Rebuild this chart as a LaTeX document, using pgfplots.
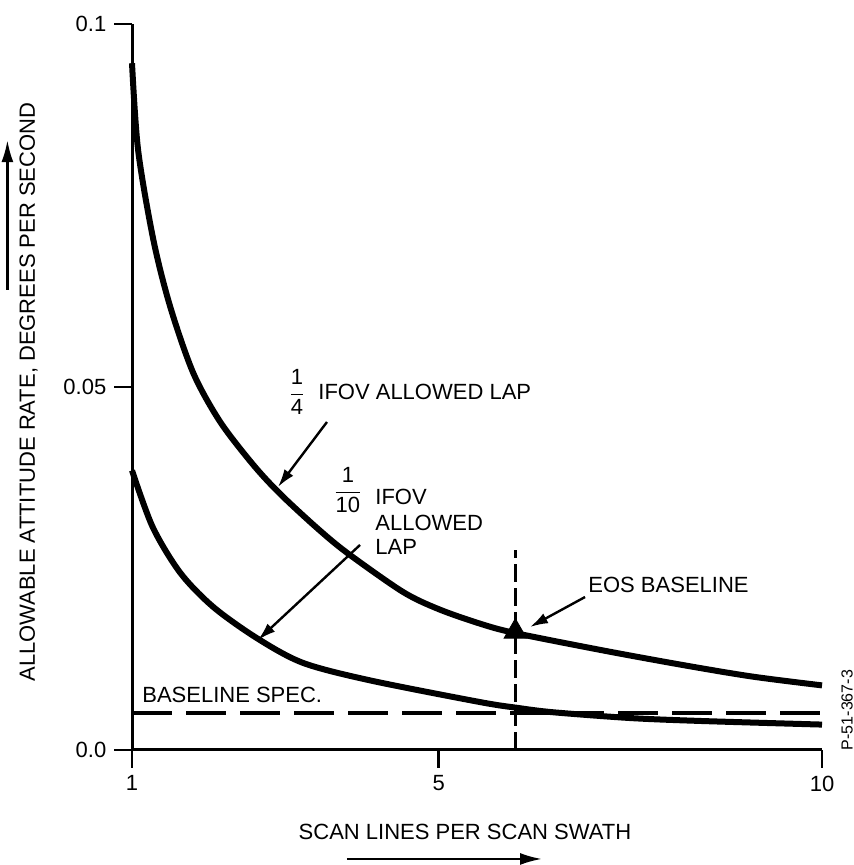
\documentclass[border=0pt]{standalone}
\usepackage{pgfplots}
\pgfplotsset{compat=1.18}
\usepackage{fontspec}
\setmainfont{Liberation Sans}
\usetikzlibrary{arrows.meta}
\newcommand\fr[2]{$\displaystyle\frac{\mbox{#1}}{\mbox{#2}}$}
\begin{document}
\fontsize{11bp}{13bp}\selectfont
\begin{tikzpicture}[x=1bp,y=1bp]
\useasboundingbox (0,0) rectangle (426.5,432.5);
\begin{axis}[
  at={(66bp,57.5bp)}, anchor=south west,
  scale only axis, width=345bp, height=363bp,
  xmin=1, xmax=10, ymin=0, ymax=0.1,
  axis x line=bottom, axis y line=left,
  axis line style={line width=1.5bp, -},
  xtick={1,5,10}, ytick={0,0.05,0.1},
  xticklabels={1,5,10}, yticklabels={0.0,0.05,0.1},
  scaled y ticks=false, scaled x ticks=false,
  /pgf/number format/assume math mode=true,
  tick align=outside,
  major tick length=9bp,
  tick style={line width=1.2bp, black},
  ticklabel style={font=\fontsize{11bp}{13bp}\selectfont},
  clip=false,
]
% 1/4 IFOV allowed lap
\addplot[line width=3bp, smooth, tension=0.5] coordinates {
(1.0,0.0946) (1.08,0.0826) (1.28,0.0702) (1.50,0.0610) (1.80,0.0519)
(2.15,0.0452) (2.58,0.0393) (2.93,0.0353) (3.40,0.0307) (3.80,0.0272)
(4.53,0.0218) (5.00,0.0194) (5.54,0.0174) (6.00,0.0161) (7.20,0.0136)
(8.24,0.0116) (9.10,0.0101) (10.0,0.0089)};
% 1/10 IFOV allowed lap
\addplot[line width=3bp, smooth, tension=0.5] coordinates {
(1.0,0.0385) (1.27,0.0307) (1.63,0.0244) (2.06,0.0197) (2.63,0.0154)
(3.23,0.0120) (4.10,0.0096) (5.54,0.0066) (6.03,0.0058) (6.49,0.0052)
(7.5,0.0044) (8.41,0.0040) (10,0.0035)};
% baseline spec
\addplot[line width=1.8bp, dash pattern=on 20bp off 7bp] coordinates {(1,0.0051) (10,0.0051)};
% EOS baseline vertical
\addplot[line width=1.5bp, dash pattern=on 9bp off 3bp] coordinates {(6,0) (6,0.0275)};
% EOS baseline marker
\addplot[only marks, mark=triangle*, mark size=6.5bp, black] coordinates {(6,0.0163)};

\node at (axis cs:3.152,0.0493) {\fr{1}{4}};
\node[anchor=west, inner sep=0pt] at (axis cs:3.426,0.0493) {IFOV ALLOWED LAP};
\draw[line width=1.2bp, -{Latex[length=9bp,width=5.5bp]}] (axis cs:3.543,0.04518) -- (axis cs:2.904,0.03623);

\node at (axis cs:3.817,0.03581) {\fr{1}{10}};
\node[anchor=base west, inner sep=0pt] at (axis cs:4.170,0.03375) {IFOV};
\node[anchor=base west, inner sep=0pt] at (axis cs:4.170,0.0303) {ALLOWED};
\node[anchor=base west, inner sep=0pt] at (axis cs:4.170,0.02686) {LAP};
\draw[line width=1.2bp, -{Latex[length=9bp,width=5.5bp]}] (axis cs:3.974,0.02824) -- (axis cs:2.643,0.01515);

\node[anchor=base west, inner sep=0pt] at (axis cs:1.130,0.00661) {BASELINE SPEC.};

\node[anchor=base west, inner sep=0pt] at (axis cs:6.948,0.02176) {EOS BASELINE};
\draw[line width=1.2bp, -{Latex[length=9bp,width=5.5bp]}] (axis cs:6.909,0.02107) -- (axis cs:6.191,0.01694);

\node at (axis cs:5.343,-0.01129) {SCAN LINES PER SCAN SWATH};
\draw[line width=1.2bp, -{Latex[length=11bp,width=6bp]}] (axis cs:3.804,-0.01501) -- (axis cs:6.348,-0.01501);

\node[rotate=90] at (axis cs:-0.35,0.0493) {ALLOWABLE ATTITUDE RATE, DEGREES PER SECOND};
\draw[line width=1.2bp, -{Latex[length=11bp,width=6bp]}] (axis cs:-0.625,0.0634) -- (axis cs:-0.625,0.084);

\node[rotate=90, font=\fontsize{8bp}{9bp}\selectfont] at (axis cs:10.326,0.0055) {P-51-367-3};
\end{axis}
\end{tikzpicture}
\end{document}
